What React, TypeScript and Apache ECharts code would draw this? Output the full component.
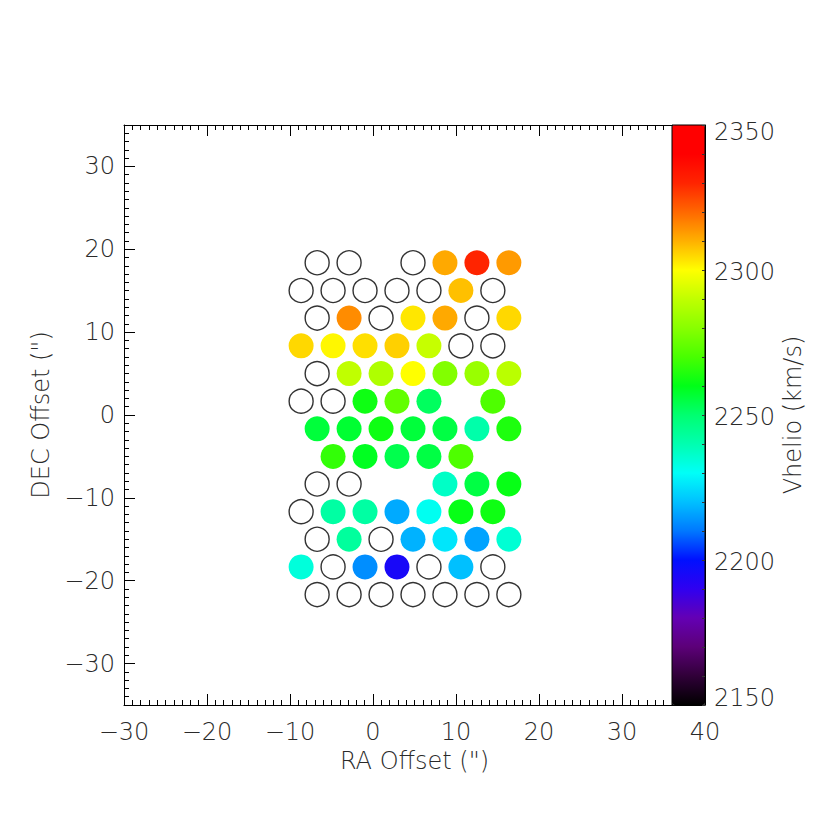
import { useEffect, useRef } from "react";
import * as echarts from "echarts";

// Fibre positions (arcsec) and heliocentric velocities (km/s); null = no measurement
const FIBER_RA: number[] = [
  -6.73, -2.88, 4.82, 8.67, 12.52, 16.37,
  -8.66, -4.81, -0.96, 2.89, 6.74, 10.59, 14.44,
  -6.73, -2.88, 0.97, 4.82, 8.67, 12.52, 16.37,
  -8.66, -4.81, -0.96, 2.89, 6.74, 10.59, 14.44,
  -6.73, -2.88, 0.97, 4.82, 8.67, 12.52, 16.37,
  -8.66, -4.81, -0.96, 2.89, 6.74, 14.44,
  -6.73, -2.88, 0.97, 4.82, 8.67, 12.52, 16.37,
  -4.81, -0.96, 2.89, 6.74, 10.59,
  -6.73, -2.88, 8.67, 12.52, 16.37,
  -8.66, -4.81, -0.96, 2.89, 6.74, 10.59, 14.44,
  -6.73, -2.88, 0.97, 4.82, 8.67, 12.52, 16.37,
  -8.66, -4.81, -0.96, 2.89, 6.74, 10.59, 14.44,
  -6.73, -2.88, 0.97, 4.82, 8.67, 12.52, 16.37,
];
const FIBER_DEC: number[] = [
  18.37, 18.37, 18.37, 18.37, 18.37, 18.37,
  15.03, 15.03, 15.03, 15.03, 15.03, 15.03, 15.03,
  11.7, 11.7, 11.7, 11.7, 11.7, 11.7, 11.7,
  8.35, 8.35, 8.35, 8.35, 8.35, 8.35, 8.35,
  5.0, 5.0, 5.0, 5.0, 5.0, 5.0, 5.0,
  1.67, 1.67, 1.67, 1.67, 1.67, 1.67,
  -1.67, -1.67, -1.67, -1.67, -1.67, -1.67, -1.67,
  -5.0, -5.0, -5.0, -5.0, -5.0,
  -8.33, -8.33, -8.33, -8.33, -8.33,
  -11.67, -11.67, -11.67, -11.67, -11.67, -11.67, -11.67,
  -15.0, -15.0, -15.0, -15.0, -15.0, -15.0, -15.0,
  -18.33, -18.33, -18.33, -18.33, -18.33, -18.33, -18.33,
  -21.67, -21.67, -21.67, -21.67, -21.67, -21.67, -21.67,
];
const FIBER_VHELIO: (number | null)[] = [
  null, null, null, 2311, 2330, 2313,
  null, null, null, null, null, 2308, null,
  null, 2315, null, 2303, 2311, null, 2305,
  2305, 2301, 2304, 2306, 2291, null, null,
  null, 2290, 2287, 2300, 2279, 2283, 2289,
  null, null, 2262, 2274, 2252, 2271,
  2256, 2257, 2262, 2256, 2255, 2241, 2264,
  2267, 2259, 2254, 2255, 2271,
  null, null, 2237, 2255, 2261,
  null, 2242, 2242, 2217, 2231, 2261, 2262,
  null, 2243, null, 2218, 2226, 2216, 2235,
  2234, null, 2213, 2195, null, 2220, null,
  null, null, null, null, null, null, null,
];

const X_TICKS = [-30, -20, -10, 0, 10, 20, 30, 40];
const Y_TICKS = [-30, -20, -10, 0, 10, 20, 30];
const V_MIN = 2150;
const V_MAX = 2350;

// colour table (evenly spaced from V_MIN to V_MAX)
const COLOR_STOPS = [
  "#000000", "#300038", "#5c0078", "#6400b4", "#3000f0", "#0010ff",
  "#0078ff", "#00c0ff", "#00fff8", "#00ffb0", "#00ff70", "#00ff18",
  "#48ff00", "#88ff00", "#c0ff00", "#ffff00", "#ffb000", "#ff6800",
  "#ff2400", "#ff0000", "#ff0000",
];

const FONT = "'DejaVu Sans ExtraLight', 'DejaVu Sans', sans-serif";
const TXT = "#2a2a2a";
const FW = 200;

const fmt = (v: number) => String(v).replace("-", "\u2212");

export default function App() {
  const ref = useRef<HTMLDivElement>(null);
  useEffect(() => {
    if (!ref.current) return;
    const chart = echarts.init(ref.current, undefined, { renderer: "svg" });

    const filled: number[][] = [];
    const empty: number[][] = [];
    FIBER_RA.forEach((x, i) => {
      const v = FIBER_VHELIO[i];
      if (v === null) empty.push([x, FIBER_DEC[i]]);
      else filled.push([x, FIBER_DEC[i], v]);
    });

    const line = { show: true, onZero: false, lineStyle: { color: "#000", width: 1 } };
    const textStyle = { fontSize: 24, color: TXT, fontFamily: FONT, fontWeight: FW };

    const xCommon = {
      gridIndex: 0, type: "value", min: -30, max: 40, interval: 10,
      axisLine: line,
      axisTick: { show: true, inside: true, length: 11, lineStyle: { color: "#000" } },
      minorTick: { show: true, splitNumber: 10, length: 5, lineStyle: { color: "#000" } },
      splitLine: { show: false },
    };

    chart.setOption({
      animation: false,
      backgroundColor: "#fff",
      textStyle: { fontFamily: FONT },
      grid: [
        { left: 124, top: 125, width: 581, height: 580, containLabel: false },
        {
          left: 672, top: 125, width: 33, height: 580, show: true, z: 10,
          borderColor: "#000", borderWidth: 1, backgroundColor: "transparent",
        },
      ],
      xAxis: [
        {
          ...xCommon,
          position: "bottom",
          axisLabel: { ...textStyle, margin: 15, formatter: fmt, customValues: X_TICKS },
          name: "RA Offset (\")", nameLocation: "middle", nameGap: 44,
          nameTextStyle: textStyle,
        },
        {
          ...xCommon,
          position: "top",
          axisLabel: { show: false },
        },
        { gridIndex: 1, type: "value", min: 0, max: 1, show: false },
      ],
      yAxis: [
        {
          // minor ticks every arcsec + labels
          gridIndex: 0, type: "value", position: "left", min: -35, max: 35, interval: 1,
          axisLine: line,
          axisTick: { show: true, inside: true, length: 5, lineStyle: { color: "#000" } },
          splitLine: { show: false },
          axisLabel: { ...textStyle, margin: 9, formatter: fmt, customValues: Y_TICKS },
          name: "DEC Offset (\")", nameLocation: "middle", nameGap: 62, nameRotate: 90,
          nameTextStyle: textStyle,
        },
        {
          // major ticks every 10 arcsec
          gridIndex: 0, type: "value", position: "left", min: -35, max: 35, interval: 1,
          axisLine: { show: false, onZero: false },
          axisTick: {
            show: true, inside: true, length: 11, lineStyle: { color: "#000" },
            customValues: Y_TICKS,
          },
          splitLine: { show: false },
          axisLabel: { show: false },
        },
        {
          gridIndex: 1, type: "value", position: "right", min: V_MIN, max: V_MAX, interval: 50,
          z: 10,
          axisLine: line,
          axisTick: { show: true, inside: true, length: 3, lineStyle: { color: "#333" } },
          minorTick: { show: true, splitNumber: 5, length: 3, lineStyle: { color: "#333" } },
          splitLine: { show: false },
          axisLabel: {
            ...textStyle,
            margin: 9,
            formatter: (v: number) =>
              v === V_MAX ? `{top|${v}}` : v === V_MIN ? `{bot|${v}}` : `{mid|${v}}`,
            rich: {
              top: { ...textStyle, padding: [14, 0, 0, 0] },
              bot: { ...textStyle, padding: [0, 0, 14, 0] },
              mid: { ...textStyle, padding: [4, 0, 0, 0] },
            },
          },
          name: "Vhelio (km/s)", nameLocation: "middle", nameGap: 76, nameRotate: 90,
          nameTextStyle: textStyle,
        },
      ],
      visualMap: {
        type: "continuous",
        min: V_MIN,
        max: V_MAX,
        dimension: 2,
        seriesIndex: 0,
        calculable: false,
        hoverLink: false,
        orient: "vertical",
        left: 672,
        top: 125,
        itemWidth: 33,
        itemHeight: 580,
        padding: 0,
        inRange: { color: COLOR_STOPS },
      },
      series: [
        {
          type: "scatter",
          xAxisIndex: 0,
          yAxisIndex: 0,
          data: filled,
          symbol: "circle",
          symbolSize: 25,
          itemStyle: { opacity: 1, borderWidth: 0 },
          z: 3,
        },
        {
          type: "scatter",
          xAxisIndex: 0,
          yAxisIndex: 0,
          data: empty,
          symbol: "circle",
          symbolSize: 24,
          itemStyle: { color: "#fff", borderColor: "#333", borderWidth: 1.4, opacity: 1 },
          z: 3,
        },
      ],
    });
    return () => chart.dispose();
  }, []);
  return (
    <div
      ref={ref}
      style={{ position: "fixed", left: 0, top: 0, width: 830, height: 830 }}
    />
  );
}
